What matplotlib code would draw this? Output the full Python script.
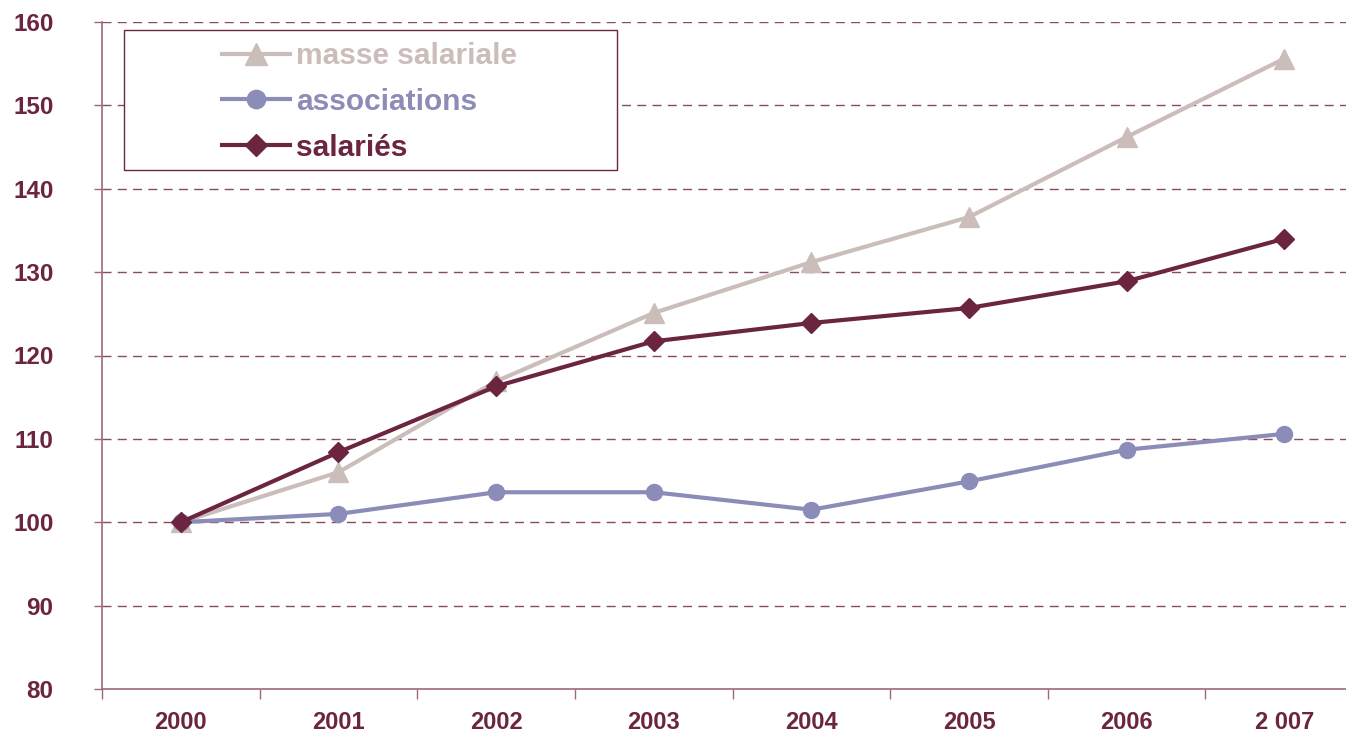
import matplotlib
matplotlib.use('Agg')
import matplotlib.pyplot as plt
from matplotlib.patches import Rectangle
import numpy as np

plt.rcParams['font.family'] = ['Liberation Sans', 'DejaVu Sans']

# données (indice base 100 en 2000)
annees = ['2000', '2001', '2002', '2003', '2004', '2005', '2006', '2 007']
masse_salariale = [100, 106.0, 116.9, 125.1, 131.2, 136.6, 146.2, 155.6]
associations = [100, 101.0, 103.6, 103.6, 101.5, 104.9, 108.7, 110.6]
salaries = [100, 108.4, 116.3, 121.7, 123.9, 125.7, 128.9, 134.0]

c_masse = '#CBBDBA'
c_assoc = '#8C8CB9'
c_sal = '#6B2540'
c_txt = '#6B2540'
c_grid = '#8A4A62'
c_axe = '#9C6A7E'

W, H = 1346, 734
fig = plt.figure(figsize=(W / 100, H / 100), dpi=100, facecolor='white')
ax = fig.add_axes([102 / W, 45 / H, 1261 / W, 667 / H])

x = np.arange(len(annees))
ax.plot(x, masse_salariale, color=c_masse, lw=3, marker='^', ms=14, label='masse salariale', zorder=3)
ax.plot(x, associations, color=c_assoc, lw=3, marker='o', ms=11.5, label='associations', zorder=4)
ax.plot(x, salaries, color=c_sal, lw=3, marker='D', ms=10, label='salariés', zorder=5)

ax.set_xlim(-0.5, 7.5)
ax.set_ylim(80, 160)
ax.set_yticks(np.arange(80, 161, 10))

# graduations x entre les catégories, libellés au centre
ax.set_xticks(np.arange(-0.5, 8, 1))
ax.set_xticklabels([])
ax.set_xticks(x, minor=True)
ax.set_xticklabels(annees, minor=True)
ax.tick_params(axis='x', which='major', length=7, width=1, color=c_axe, direction='out')
ax.tick_params(axis='x', which='minor', length=0, pad=16, labelsize=17, labelcolor=c_txt)
ax.tick_params(axis='y', length=6, width=1, color=c_axe, direction='out', pad=29,
               labelsize=17.5, labelcolor=c_txt)
for lab in ax.get_xticklabels(minor=True) + ax.get_yticklabels():
    lab.set_fontweight('bold')

for v in np.arange(90, 161, 10):
    ax.axhline(v, color=c_grid, lw=1, ls=(0, (6.5, 4.5)), zorder=1)

for s in ['top', 'right']:
    ax.spines[s].set_visible(False)
for s in ['left', 'bottom']:
    ax.spines[s].set_color(c_axe)
    ax.spines[s].set_linewidth(1.2)

# cadre de la légende (plus large que son contenu)
fig.patches.append(Rectangle((124 / W, 1 - 170 / H), (617 - 124) / W, (170 - 30) / H,
                             transform=fig.transFigure, fill=True, facecolor='white',
                             edgecolor=c_sal, lw=1, zorder=6))

leg = fig.legend(*ax.get_legend_handles_labels(), loc='upper left',
                 bbox_to_anchor=(222 / W, 1 - 42 / H), bbox_transform=fig.transFigure,
                 frameon=False, fontsize=21.5, handlelength=2.27, handletextpad=0.22,
                 borderpad=0, labelspacing=0.6, borderaxespad=0, markerscale=1.15)
leg.set_zorder(7)
for t, c in zip(leg.get_texts(), [c_masse, c_assoc, c_sal]):
    t.set_color(c)
    t.set_fontweight('bold')

plt.savefig('out.png', dpi=100, facecolor='white')
plt.close()
